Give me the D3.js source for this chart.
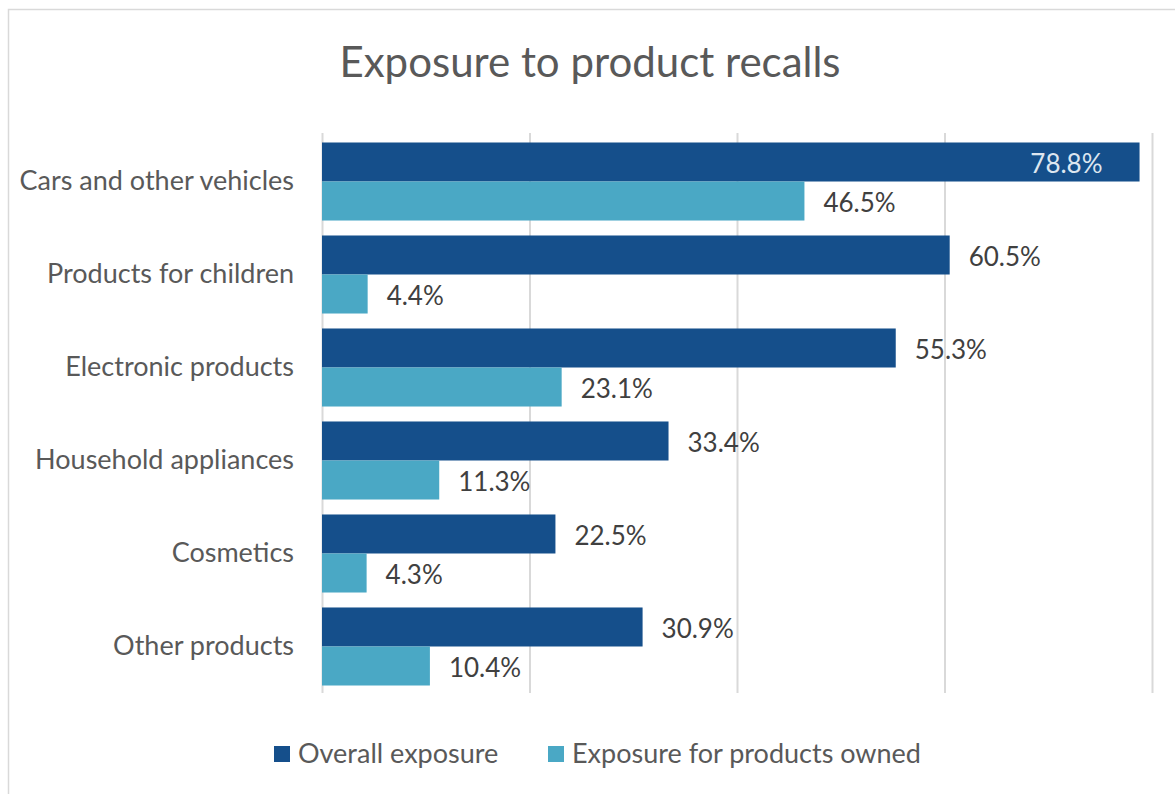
<!DOCTYPE html>
<html>
<head>
<meta charset="utf-8">
<script src="https://cdn.jsdelivr.net/npm/d3@7"></script>
<style>
  html, body { margin: 0; padding: 0; background: #ffffff; }
  svg { display: block; }
  text { font-family: Lato, "Open Sans", sans-serif; }
</style>
</head>
<body>
<div id="chart"></div>
<script>
const categories = ["Cars and other vehicles", "Products for children", "Electronic products", "Household appliances", "Cosmetics", "Other products"];
const seriesNames = ["Overall exposure", "Exposure for products owned"];
const overallExposure = [78.8, 60.5, 55.3, 33.4, 22.5, 30.9];
const ownedExposure = [46.5, 4.4, 23.1, 11.3, 4.3, 10.4];
const xTicks = [0, 20, 40, 60, 80];
const title = "Exposure to product recalls";

const colors = ["#154f8b", "#4aa8c5"];
const W = 1175, H = 794;
const plot = { left: 322, right: 1152, top: 135, bottom: 693 };

const svg = d3.select("#chart").append("svg").attr("width", W).attr("height", H);
svg.append("rect").attr("x", 0).attr("y", 0).attr("width", W).attr("height", H).attr("fill", "#fff");
svg.append("rect").attr("x", 8.5).attr("y", 9.5).attr("width", W + 10).attr("height", H + 10)
  .attr("fill", "none").attr("stroke", "#d9d9d9").attr("stroke-width", 1.5);

svg.append("text").attr("x", 590).attr("y", 77).attr("text-anchor", "middle")
  .attr("font-size", 42).attr("fill", "#595959").text(title);

const x = d3.scaleLinear().domain([0, 80]).range([plot.left, plot.right]);
const y = d3.scaleBand().domain(categories).range([plot.top, plot.bottom]).paddingInner(0.161).paddingOuter(0.0806);
const ySub = d3.scaleBand().domain([0, 1]).range([0, y.bandwidth()]);

// gridlines
const grid = svg.append("g").call(d3.axisBottom(x).tickValues(xTicks).tickSize(-(plot.bottom - plot.top + 2)).tickFormat(""))
  .attr("transform", `translate(0,${plot.bottom})`);
grid.select(".domain").remove();
grid.selectAll(".tick line").attr("stroke", "#d9d9d9").attr("stroke-width", 2);

// category axis
const yAxis = svg.append("g").attr("transform", `translate(${plot.left - 28},0)`)
  .call(d3.axisLeft(y).tickSize(0).tickPadding(0));
yAxis.select(".domain").remove();
yAxis.selectAll("text").attr("font-size", 27).attr("fill", "#595959").attr("font-family", "Lato, sans-serif");

const rows = categories.map((c, i) => ({ c, vals: [overallExposure[i], ownedExposure[i]] }));
const g = svg.append("g");
rows.forEach(r => {
  r.vals.forEach((v, s) => {
    const yy = y(r.c) + ySub(s);
    g.append("rect").attr("x", x(0)).attr("y", yy).attr("width", x(v) - x(0)).attr("height", ySub.bandwidth())
      .attr("fill", colors[s]);
    const inside = x(v) + 80 > plot.right + 20;
    g.append("text")
      .attr("x", inside ? x(v) - 37 : x(v) + 19)
      .attr("y", yy + ySub.bandwidth() / 2 + 2)
      .attr("dy", "0.35em")
      .attr("text-anchor", inside ? "end" : "start")
      .attr("font-size", 26)
      .attr("fill", inside ? "#dde6f0" : "#404040")
      .text(v.toFixed(1) + "%");
  });
});

// legend
const legendX = [274, 548];
seriesNames.forEach((n, i) => {
  svg.append("rect").attr("x", legendX[i]).attr("y", 746).attr("width", 16).attr("height", 16).attr("fill", colors[i]);
  svg.append("text").attr("x", legendX[i] + 24).attr("y", 763).attr("font-size", 27).attr("fill", "#595959").text(n);
});
</script>
</body>
</html>
